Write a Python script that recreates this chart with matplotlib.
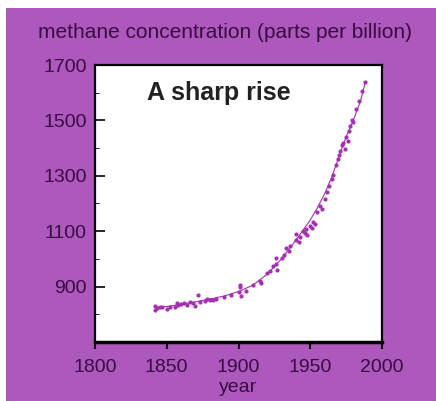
import matplotlib
matplotlib.use("Agg")
import matplotlib.pyplot as plt
from matplotlib.patches import Rectangle
from matplotlib.ticker import MultipleLocator

years = [1842, 1842, 1843, 1845, 1847, 1850, 1852, 1856, 1857, 1858, 1860, 1862,
         1864, 1866, 1868, 1870, 1872, 1873, 1877, 1878, 1880, 1882, 1884, 1890,
         1895, 1900, 1901, 1901, 1902, 1905, 1910, 1915, 1916, 1920, 1922, 1924,
         1926, 1926, 1927, 1930, 1932, 1933, 1935, 1936, 1940, 1940, 1942, 1943,
         1945, 1946, 1947, 1948, 1950, 1951, 1952, 1953, 1955, 1957, 1958, 1960,
         1962, 1963, 1965, 1966, 1968, 1969, 1970, 1971, 1972, 1973, 1974, 1975,
         1976, 1977, 1978, 1979, 1980, 1982, 1984, 1986, 1988]
methane = [815, 830, 822, 828, 826, 818, 825, 828, 840, 832, 838, 842,
           835, 845, 840, 830, 868, 843, 848, 857, 850, 852, 855, 862,
           870, 880, 898, 905, 865, 885, 905, 920, 912, 950, 958, 975,
           1002, 980, 960, 1005, 1015, 1040, 1030, 1045, 1070, 1090, 1060, 1078,
           1100, 1092, 1108, 1085, 1120, 1112, 1135, 1125, 1170, 1190, 1180, 1215,
           1240, 1262, 1290, 1302, 1340, 1360, 1375, 1390, 1410, 1420, 1398, 1440,
           1425, 1460, 1478, 1500, 1495, 1540, 1570, 1605, 1640]

# smooth trend line
fit_years = [1842, 1850, 1860, 1870, 1880, 1890, 1900, 1910, 1920, 1930, 1940,
             1950, 1955, 1960, 1965, 1970, 1975, 1980, 1985, 1988]
fit_vals = [825, 828, 836, 845, 855, 866, 882, 905, 945, 1000, 1068,
            1140, 1185, 1235, 1295, 1370, 1440, 1500, 1570, 1630]

purple = '#ad58bd'
dark = '#3a0b42'
magenta = '#a42fb0'

plt.rcParams['font.family'] = ['Liberation Sans', 'DejaVu Sans']

fig = plt.figure(figsize=(4.36, 4.01), dpi=100)
fig.patch.set_facecolor('white')
fig.patches.append(Rectangle((6 / 436, 0), 1, 393 / 401, transform=fig.transFigure,
                             facecolor=purple, edgecolor='none', zorder=-1))

ax = fig.add_axes([95 / 436, 59 / 401, 287 / 436, 277 / 401])
ax.set_facecolor('white')
ax.plot(fit_years, fit_vals, color=magenta, lw=0.8)
ax.scatter(years, methane, s=4, color=magenta, zorder=3)

ax.set_xlim(1800, 2000)
ax.set_ylim(700, 1700)
ax.set_xticks([1800, 1850, 1900, 1950, 2000])
ax.set_yticks([900, 1100, 1300, 1500, 1700])
ax.yaxis.set_minor_locator(MultipleLocator(100))
ax.tick_params(axis='y', which='major', direction='in', length=7, width=1.2,
               labelsize=14, labelcolor=dark, pad=6)
ax.tick_params(axis='y', which='minor', direction='in', length=3, width=0.6)
ax.tick_params(axis='x', direction='out', length=5, width=1.5,
               labelsize=14, labelcolor=dark, pad=7)
for s in ax.spines.values():
    s.set_linewidth(1.6)
ax.spines['bottom'].set_linewidth(2.5)

ax.text(0.18, 0.90, 'A sharp rise', transform=ax.transAxes, fontsize=18,
        fontweight='bold', color='#222222', va='center')
fig.text(238 / 436, 1 - 388 / 401, 'year', ha='center', va='center',
         fontsize=14, color=dark)
fig.text(0.515, 0.918, 'methane concentration (parts per billion)', ha='center',
         va='center', fontsize=15, color=dark)

fig.savefig('out.png', dpi=100)
